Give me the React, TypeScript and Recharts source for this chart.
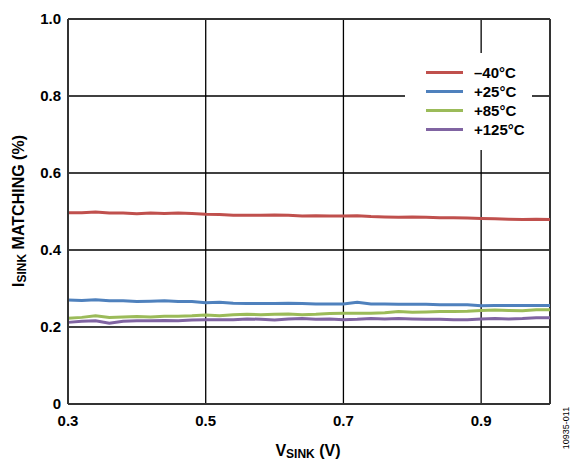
import React from "react";
import {
  LineChart,
  Line,
  XAxis,
  YAxis,
  CartesianGrid,
  ReferenceLine,
  Label,
} from "recharts";

const vSink = [
  0.3, 0.32, 0.34, 0.36, 0.38, 0.4, 0.42, 0.44, 0.46, 0.48, 0.5, 0.52, 0.54, 0.56,
  0.58, 0.6, 0.62, 0.64, 0.66, 0.68, 0.7, 0.72, 0.74, 0.76, 0.78, 0.8, 0.82, 0.84,
  0.86, 0.88, 0.9, 0.92, 0.94, 0.96, 0.98, 1.0,
];
const minus40 = [
  0.497, 0.497, 0.499, 0.496, 0.496, 0.494, 0.496, 0.495, 0.496, 0.495, 0.493, 0.492,
  0.49, 0.49, 0.49, 0.491, 0.49, 0.488, 0.489, 0.488, 0.488, 0.489, 0.487, 0.486,
  0.485, 0.486, 0.485, 0.484, 0.484, 0.483, 0.482, 0.481, 0.48, 0.479, 0.48, 0.479,
];
const plus25 = [
  0.27, 0.269, 0.271, 0.268, 0.268, 0.266, 0.267, 0.268, 0.266, 0.266, 0.263, 0.264,
  0.262, 0.261, 0.261, 0.261, 0.262, 0.261, 0.26, 0.26, 0.26, 0.264, 0.26, 0.26,
  0.259, 0.259, 0.259, 0.258, 0.258, 0.258, 0.255, 0.256, 0.256, 0.256, 0.256, 0.256,
];
const plus85 = [
  0.223, 0.225, 0.229, 0.225, 0.226, 0.227, 0.226, 0.228, 0.228, 0.229, 0.231, 0.229,
  0.232, 0.233, 0.232, 0.233, 0.234, 0.232, 0.233, 0.235, 0.236, 0.236, 0.236, 0.237,
  0.24, 0.238, 0.239, 0.24, 0.24, 0.241, 0.243, 0.244, 0.243, 0.242, 0.245, 0.245,
];
const plus125 = [
  0.212, 0.215, 0.216, 0.21, 0.215, 0.216, 0.216, 0.217, 0.216, 0.218, 0.219, 0.219,
  0.219, 0.221, 0.22, 0.218, 0.221, 0.222, 0.22, 0.221, 0.219, 0.22, 0.222, 0.221,
  0.222, 0.221, 0.22, 0.22, 0.219, 0.219, 0.221, 0.222, 0.221, 0.222, 0.224, 0.224,
];

const xTicks = [0.3, 0.5, 0.7, 0.9];
const yTicks = [0, 0.2, 0.4, 0.6, 0.8, 1.0];

const seriesNames = ["–40°C", "+25°C", "+85°C", "+125°C"];
const seriesKeys = ["m40", "p25", "p85", "p125"];
const seriesColors = ["#C0504D", "#4F81BD", "#9BBB59", "#8064A2"];

const data = vSink.map((v, i) => ({
  v,
  m40: minus40[i],
  p25: plus25[i],
  p85: plus85[i],
  p125: plus125[i],
}));

const FONT = "'Liberation Sans', Arial, Helvetica, sans-serif";
const tickStyle = { fontFamily: FONT, fontWeight: 700, fontSize: 15, fill: "#000" };

const XLabel = () => (
  <text
    x={308}
    y={456}
    textAnchor="middle"
    fontFamily={FONT}
    fontWeight={700}
    fontSize={16}
    fill="#000"
  >
    V
    <tspan fontSize={12} dy={2}>
      SINK
    </tspan>
    <tspan dy={-2}> (V)</tspan>
  </text>
);

const YLabel = () => (
  <text
    x={24}
    y={211}
    transform="rotate(-90, 24, 211)"
    textAnchor="middle"
    fontFamily={FONT}
    fontWeight={700}
    fontSize={16}
    fill="#000"
  >
    I
    <tspan fontSize={12} dy={2}>
      SINK
    </tspan>
    <tspan dy={-2}> MATCHING (%)</tspan>
  </text>
);

const LegendBox = () => (
  <div
    style={{
      position: "absolute",
      left: 405,
      top: 53,
      background: "#fff",
      width: 127,
      height: 97,
      paddingTop: 10,
      boxSizing: "border-box",
    }}
  >
    {seriesNames.map((n, i) => (
      <div key={n} style={{ display: "flex", alignItems: "center", height: 19 }}>
        <div
          style={{
            marginLeft: 21,
            width: 37,
            height: 3,
            background: seriesColors[i],
          }}
        />
        <span
          style={{
            marginLeft: 11,
            fontFamily: FONT,
            fontWeight: 700,
            fontSize: 15,
            color: "#000",
            lineHeight: "19px",
          }}
        >
          {n}
        </span>
      </div>
    ))}
  </div>
);

export default function App() {
  return (
    <div
      style={{
        position: "absolute",
        left: 0,
        top: 0,
        width: 572,
        height: 461,
        background: "#fff",
      }}
    >
      <LineChart
        width={572}
        height={461}
        data={data}
        margin={{ top: 19, right: 22, left: 0, bottom: 27 }}
      >
        <CartesianGrid stroke="#000" strokeWidth={1.3} />
        <XAxis
          dataKey="v"
          type="number"
          domain={[0.3, 1.0]}
          ticks={xTicks}
          tickFormatter={(v: number) => v.toFixed(1)}
          tick={tickStyle}
          tickLine={false}
          tickMargin={5}
          height={30}
          axisLine={{ stroke: "#333", strokeWidth: 2 }}
          label={<Label content={<XLabel />} />}
        />
        <YAxis
          type="number"
          domain={[0, 1]}
          ticks={yTicks}
          tickFormatter={(v: number) => (v === 0 ? "0" : v.toFixed(1))}
          tick={tickStyle}
          tickLine={false}
          tickMargin={1}
          width={68}
          axisLine={{ stroke: "#333", strokeWidth: 2 }}
          label={<Label content={<YLabel />} />}
        />
        <ReferenceLine x={1.0} stroke="#333" strokeWidth={2} />
        <ReferenceLine y={1.0} stroke="#333" strokeWidth={2} />
        {seriesKeys.map((k, i) => (
          <Line
            key={k}
            dataKey={k}
            name={seriesNames[i]}
            stroke={seriesColors[i]}
            strokeWidth={3}
            dot={false}
            activeDot={false}
            isAnimationActive={false}
          />
        ))}
      </LineChart>
      <LegendBox />
      <div
        style={{
          position: "absolute",
          left: 566,
          top: 428,
          transform: "translate(-50%, -50%) rotate(-90deg)",
          fontFamily: FONT,
          fontSize: 9,
          color: "#000",
          whiteSpace: "nowrap",
        }}
      >
        10935-011
      </div>
    </div>
  );
}
